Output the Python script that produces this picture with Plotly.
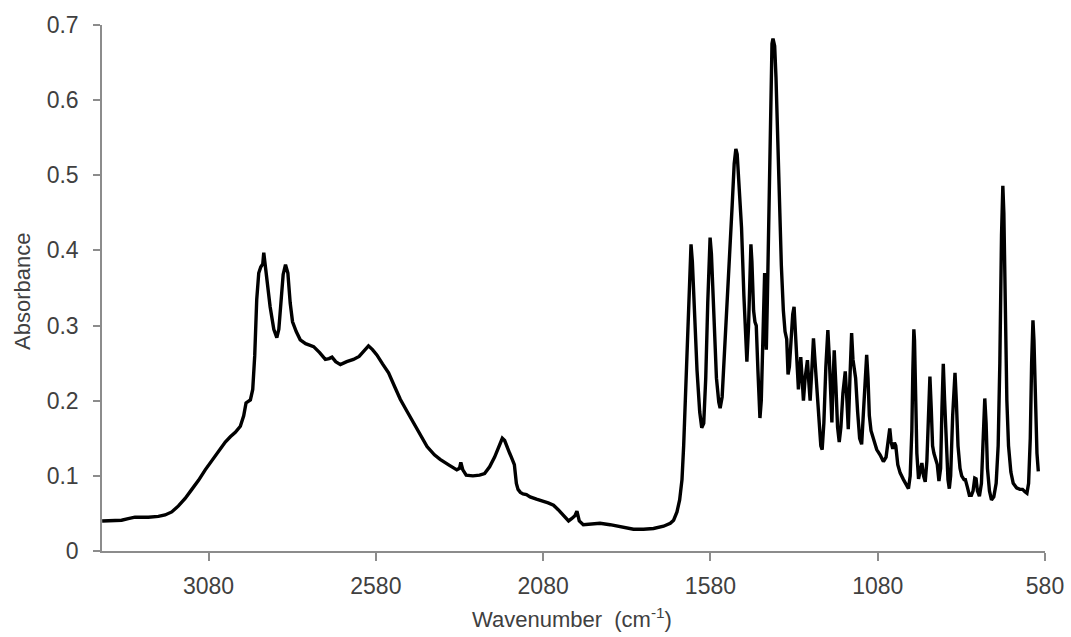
import plotly.graph_objects as go

wavenumber = [
    3398, 3360, 3340, 3320, 3300, 3260, 3230, 3210, 3190, 3170, 3150, 3130, 3110, 3090, 3070, 3050,
    3030, 3015, 3000, 2985, 2975, 2968, 2955, 2948, 2942, 2936, 2930, 2924, 2918, 2915, 2911, 2904,
    2896, 2885, 2876, 2870, 2864, 2857, 2850, 2843, 2836, 2829, 2818, 2806, 2790, 2766, 2748, 2731,
    2720, 2711, 2700, 2686, 2667, 2647, 2630, 2617, 2602, 2590, 2577, 2560, 2542, 2525, 2507, 2487,
    2467, 2447, 2427, 2405, 2388, 2360, 2338, 2330, 2326, 2320, 2310, 2290, 2270, 2255, 2240, 2225,
    2212, 2202, 2195, 2188, 2180, 2175, 2170, 2166, 2160, 2155, 2148, 2140, 2130, 2119, 2100, 2090,
    2079, 2065, 2049, 2035, 2019, 2004, 1995, 1985, 1979, 1972, 1960, 1940, 1910, 1880, 1860, 1830,
    1810, 1780, 1750, 1720, 1700, 1690, 1680, 1672, 1665, 1660, 1655, 1650, 1645, 1641, 1638, 1634,
    1628, 1620, 1612, 1606, 1600, 1594, 1588, 1584, 1581, 1577, 1570, 1562, 1555, 1551, 1545, 1538,
    1530, 1522, 1515, 1509, 1504, 1500, 1494, 1487, 1480, 1474, 1471, 1466, 1462, 1459, 1456, 1451,
    1447, 1443, 1438, 1432, 1428, 1424, 1421, 1418, 1416, 1413, 1410, 1405, 1400, 1396, 1393, 1388,
    1384, 1379, 1374, 1368, 1362, 1357, 1352, 1348, 1344, 1339, 1334, 1330, 1326, 1321, 1317, 1313,
    1310, 1306, 1302, 1297, 1293, 1290, 1286, 1282, 1277, 1272, 1267, 1262, 1255, 1250, 1246, 1241,
    1235, 1229, 1225, 1220, 1217, 1213, 1210, 1205, 1200, 1195, 1190, 1184, 1177, 1172, 1168, 1163,
    1158, 1154, 1150, 1146, 1140, 1134, 1128, 1122, 1117, 1113, 1109, 1105, 1100, 1093, 1083, 1073,
    1063, 1055, 1048, 1044, 1040, 1035, 1030, 1026, 1020, 1013, 1003, 995, 988, 983, 978, 975,
    972, 970, 967, 963, 958, 953, 948, 943, 938, 933, 928, 924, 920, 916, 912, 906,
    902, 897, 892, 888, 884, 880, 875, 870, 866, 862, 856, 849, 845, 840, 834, 829,
    822, 818, 812, 806, 800, 795, 790, 786, 782, 776, 770, 765, 760, 756, 752, 746,
    740, 733, 726, 720, 715, 710, 706, 703, 699, 694, 689, 682, 675, 665, 655, 647,
    640, 634, 629, 624, 620, 616, 613, 609, 604, 600,
]

absorbance = [
    0.040, 0.040, 0.041, 0.043, 0.045, 0.045, 0.046, 0.048, 0.052, 0.060, 0.070, 0.082, 0.094, 0.108, 0.120, 0.132,
    0.145, 0.152, 0.158, 0.166, 0.180, 0.197, 0.201, 0.215, 0.260, 0.335, 0.370, 0.378, 0.382, 0.397, 0.380, 0.350,
    0.325, 0.295, 0.284, 0.295, 0.330, 0.368, 0.381, 0.370, 0.330, 0.305, 0.292, 0.281, 0.276, 0.272, 0.264, 0.255,
    0.256, 0.258, 0.252, 0.248, 0.252, 0.255, 0.259, 0.265, 0.273, 0.268, 0.261, 0.249, 0.237, 0.220, 0.202, 0.186,
    0.171, 0.155, 0.139, 0.128, 0.122, 0.114, 0.108, 0.110, 0.118, 0.108, 0.101, 0.100, 0.101, 0.103, 0.112, 0.125,
    0.140, 0.150, 0.147, 0.138, 0.130, 0.125, 0.118, 0.115, 0.090, 0.082, 0.078, 0.076, 0.075, 0.072, 0.069, 0.067,
    0.066, 0.064, 0.061, 0.055, 0.048, 0.040, 0.043, 0.047, 0.053, 0.040, 0.035, 0.036, 0.037, 0.035, 0.033, 0.031,
    0.029, 0.029, 0.030, 0.033, 0.037, 0.041, 0.052, 0.068, 0.095, 0.140, 0.200, 0.260, 0.340, 0.395, 0.408, 0.385,
    0.320, 0.240, 0.185, 0.164, 0.170, 0.230, 0.330, 0.400, 0.417, 0.395, 0.310, 0.230, 0.198, 0.190, 0.205, 0.260,
    0.330, 0.400, 0.460, 0.515, 0.535, 0.528, 0.490, 0.430, 0.340, 0.260, 0.252, 0.300, 0.385, 0.408, 0.385, 0.320,
    0.305, 0.300, 0.240, 0.177, 0.200, 0.270, 0.330, 0.370, 0.300, 0.268, 0.330, 0.470, 0.610, 0.675, 0.682, 0.672,
    0.630, 0.540, 0.460, 0.380, 0.320, 0.292, 0.282, 0.235, 0.245, 0.280, 0.315, 0.325, 0.290, 0.240, 0.215, 0.240,
    0.258, 0.230, 0.200, 0.230, 0.250, 0.254, 0.225, 0.200, 0.240, 0.283, 0.250, 0.215, 0.165, 0.140, 0.135, 0.170,
    0.245, 0.294, 0.260, 0.190, 0.171, 0.230, 0.267, 0.220, 0.165, 0.145, 0.165, 0.210, 0.239, 0.200, 0.162, 0.230,
    0.290, 0.255, 0.240, 0.230, 0.185, 0.150, 0.142, 0.190, 0.240, 0.261, 0.230, 0.180, 0.160, 0.150, 0.135, 0.128,
    0.119, 0.125, 0.150, 0.163, 0.145, 0.136, 0.144, 0.140, 0.115, 0.104, 0.095, 0.088, 0.083, 0.100, 0.160, 0.240,
    0.295, 0.280, 0.200, 0.130, 0.096, 0.108, 0.117, 0.100, 0.092, 0.120, 0.190, 0.232, 0.190, 0.140, 0.130, 0.122,
    0.115, 0.093, 0.110, 0.190, 0.249, 0.200, 0.130, 0.095, 0.083, 0.100, 0.180, 0.237, 0.200, 0.140, 0.110, 0.100,
    0.095, 0.095, 0.085, 0.074, 0.074, 0.080, 0.097, 0.096, 0.080, 0.073, 0.090, 0.150, 0.203, 0.170, 0.110, 0.080,
    0.068, 0.072, 0.090, 0.140, 0.250, 0.420, 0.486, 0.450, 0.320, 0.200, 0.140, 0.105, 0.090, 0.084, 0.082, 0.082,
    0.079, 0.077, 0.090, 0.150, 0.250, 0.307, 0.280, 0.190, 0.130, 0.106,
]

x_ticks = [3080, 2580, 2080, 1580, 1080, 580]
x_range = [3398.5, 580]
y_range = [0, 0.7]

axis_color = "#8c8c8c"
text_color = "#404040"
font_family = "Liberation Sans, Arial, sans-serif"

fig = go.Figure(
    go.Scatter(
        x=wavenumber,
        y=absorbance,
        mode="lines",
        line=dict(color="black", width=3.4),
        showlegend=False,
    )
)

fig.update_layout(
    width=1071,
    height=637,
    autosize=False,
    margin=dict(l=102, r=26, t=25, b=86, autoexpand=False),
    paper_bgcolor="white",
    plot_bgcolor="white",
    font=dict(family=font_family, size=23, color=text_color),
    xaxis=dict(
        range=x_range,
        tickvals=x_ticks,
        ticktext=[str(v) for v in x_ticks],
        showline=True,
        linecolor=axis_color,
        linewidth=1.5,
        ticks="outside",
        ticklen=8,
        tickwidth=1.5,
        tickcolor=axis_color,
        showgrid=False,
        zeroline=False,
        automargin=False,
        ticklabelstandoff=6,
        tickfont=dict(size=23, color=text_color),
    ),
    yaxis=dict(
        range=y_range,
        tick0=0,
        dtick=0.1,
        showline=True,
        linecolor=axis_color,
        linewidth=1.5,
        ticks="outside",
        ticklen=7,
        tickwidth=1.5,
        tickcolor=axis_color,
        showgrid=False,
        zeroline=False,
        automargin=False,
        ticklabelstandoff=10,
        tickfont=dict(size=23, color=text_color),
    ),
    annotations=[
        dict(
            text="Wavenumber  (cm<sup>-1</sup>)",
            xref="paper", yref="paper",
            x=0.498, y=-0.128,
            xanchor="center", yanchor="middle",
            showarrow=False,
            font=dict(size=22, color=text_color, family=font_family),
        ),
        dict(
            text="Absorbance",
            xref="paper", yref="paper",
            x=-0.085, y=0.494,
            xanchor="center", yanchor="middle",
            textangle=-90,
            showarrow=False,
            font=dict(size=22, color=text_color, family=font_family),
        ),
    ],
)

fig.write_html(
    "out.html",
    config={"displayModeBar": False},
    post_script="document.body.style.margin='0';document.body.style.overflow='hidden';",
)
